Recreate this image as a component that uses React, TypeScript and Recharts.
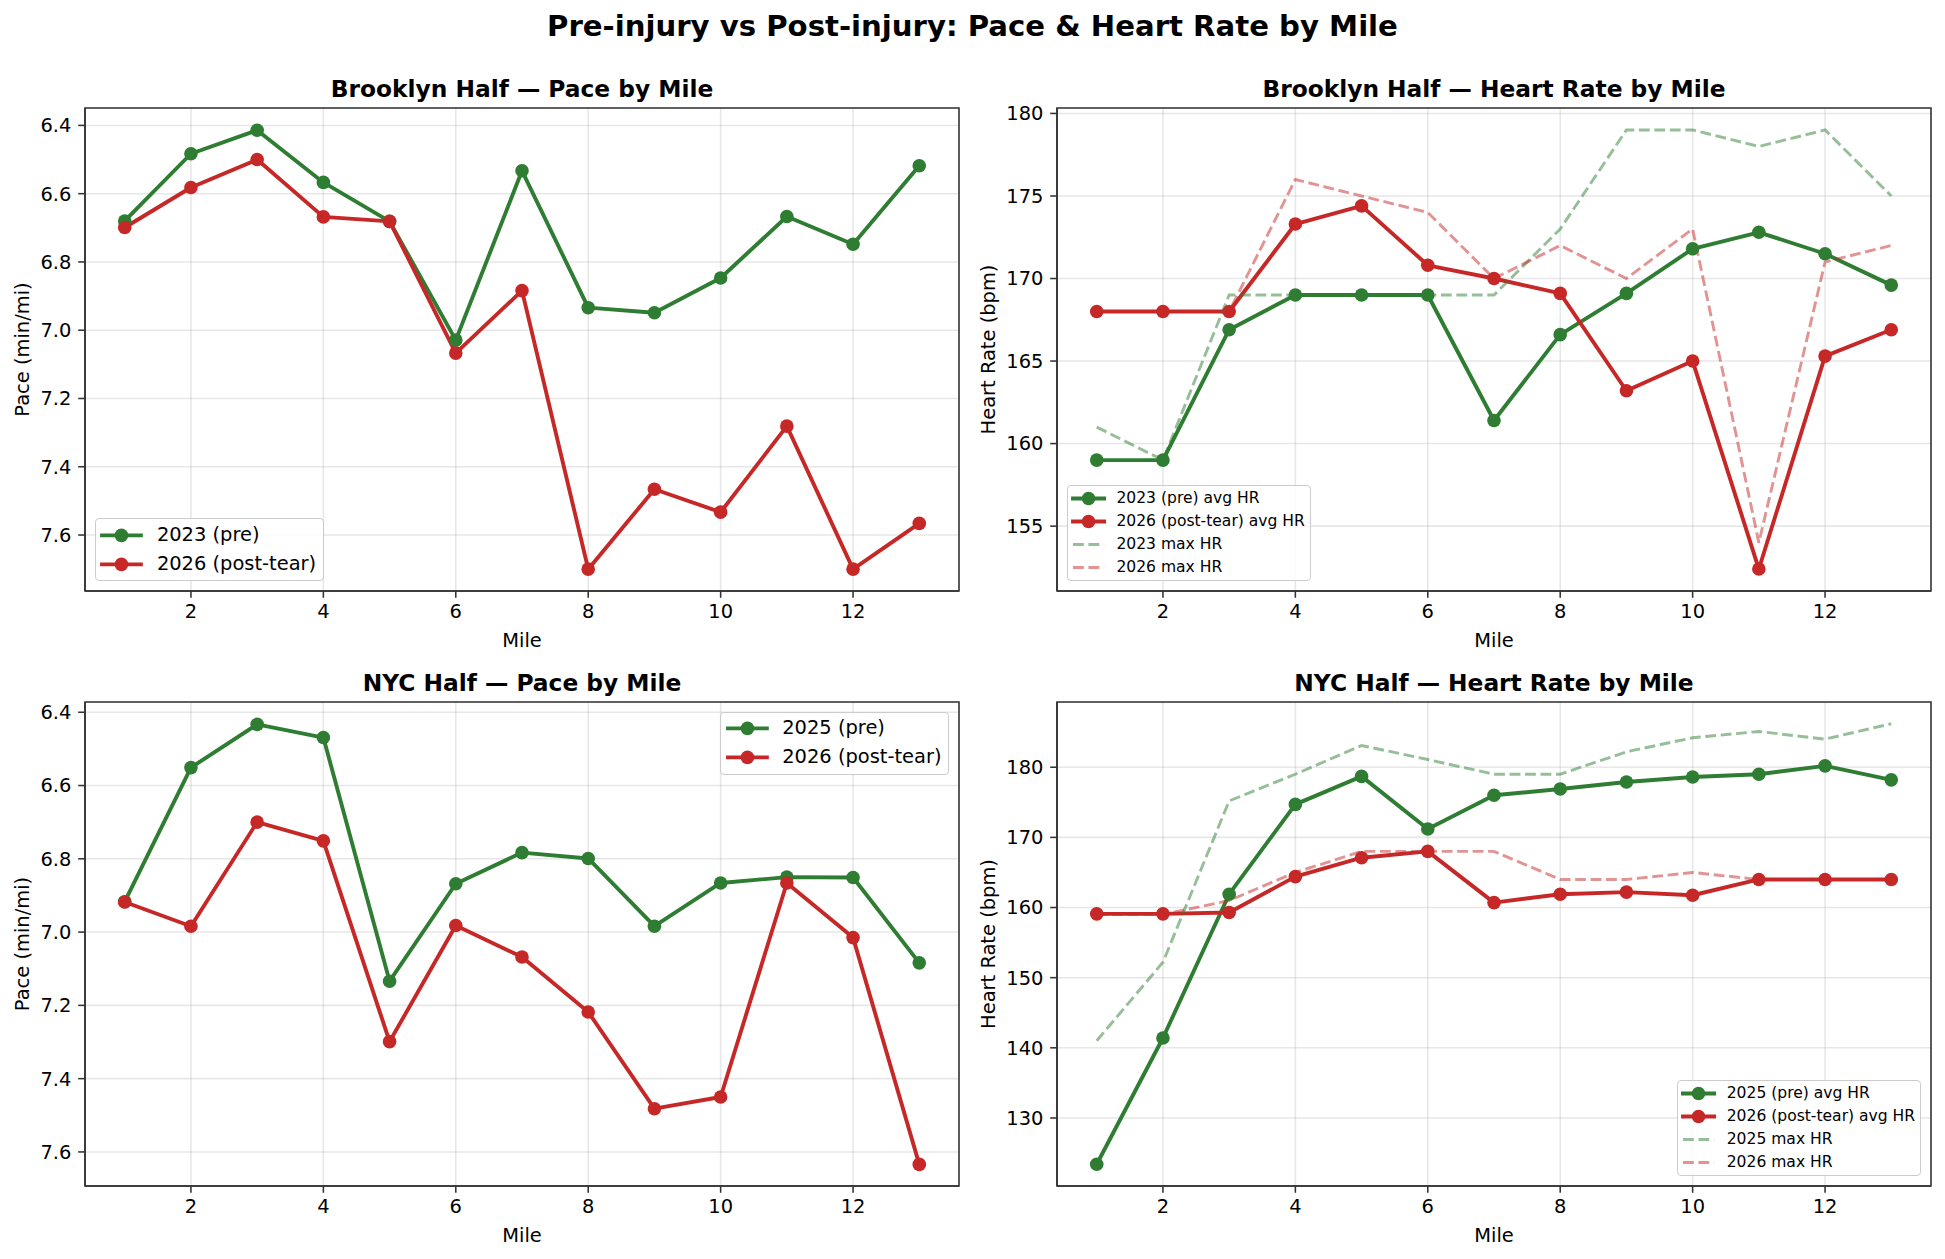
import React from 'react'
import { LineChart, Line, XAxis, YAxis, CartesianGrid, Legend, ReferenceArea } from 'recharts'

// ---- data ----
const miles = [1, 2, 3, 4, 5, 6, 7, 8, 9, 10, 11, 12, 13]

const bkPace2023 = [6.68, 6.483, 6.414, 6.567, 6.681, 7.029, 6.533, 6.934, 6.949, 6.847, 6.667, 6.748, 6.518]
const bkPace2026 = [6.699, 6.582, 6.5, 6.668, 6.681, 7.067, 6.884, 7.7, 7.466, 7.533, 7.281, 7.7, 7.566]

const bkHrAvg2023 = [159, 159, 166.9, 169, 169, 169, 161.4, 166.6, 169.1, 171.8, 172.8, 171.5, 169.6]
const bkHrAvg2026 = [168, 168, 168, 173.3, 174.4, 170.8, 170, 169.1, 163.2, 165, 152.4, 165.3, 166.9]
const bkHrMax2023 = [161, 159, 169, 169, 169, 169, 169, 173, 179, 179, 178, 179, 175]
const bkHrMax2026 = [168, 168, 168, 176, 175, 174, 170, 172, 170, 173, 154, 171, 172]

const nycPace2025 = [6.917, 6.551, 6.433, 6.469, 7.134, 6.868, 6.783, 6.799, 6.984, 6.866, 6.85, 6.851, 7.084]
const nycPace2026 = [6.918, 6.984, 6.7, 6.751, 7.299, 6.982, 7.068, 7.218, 7.482, 7.45, 6.866, 7.015, 7.634]

const nycHrAvg2025 = [123.4, 141.4, 161.9, 174.7, 178.7, 171.2, 176, 176.9, 177.9, 178.6, 179, 180.2, 178.2]
const nycHrAvg2026 = [159.1, 159.1, 159.3, 164.4, 167.1, 168, 160.7, 161.9, 162.2, 161.75, 164, 164, 164]
const nycHrMax2025 = [141, 152.2, 175.2, 179, 183.1, 181.1, 179, 179, 182.2, 184.2, 185.1, 184, 186.2]
const nycHrMax2026 = [159, 159, 161, 165, 168, 168, 168, 164, 164, 165, 164, 164, 164]

const mileTicks = [2, 4, 6, 8, 10, 12]
const paceTicks = [6.4, 6.6, 6.8, 7.0, 7.2, 7.4, 7.6]
const bkHrTicks = [155, 160, 165, 170, 175, 180]
const nycHrTicks = [130, 140, 150, 160, 170, 180]

// ---- styling ----
const GREEN = '#2e7d32'
const RED = '#c62828'
const FONT = '"DejaVu Sans", sans-serif'
const PT = 1.944 // px per point
const TICK_FS = 10 * PT
const XDOMAIN: [number, number] = [0.4, 13.6]

const W = 969
const YAXIS_W = 85
const PLOT_W = 874
const XAXIS_H = 62

type Series = { key: string; name: string; color: string; dashed?: boolean }

function toRows(cols: Record<string, number[]>) {
  return miles.map((m, i) => {
    const row: Record<string, number> = { mile: m }
    Object.keys(cols).forEach((k) => (row[k] = cols[k][i]))
    return row
  })
}

function LegendBox({ items, fontSize }: { items: Series[]; fontSize: number }) {
  const em = fontSize
  const rowH = 0.97 * em
  const handleW = 2 * em
  return (
    <div
      style={{
        display: 'inline-block',
        fontFamily: FONT,
        fontSize,
        background: 'rgba(255,255,255,0.8)',
        border: '1px solid #cccccc',
        borderRadius: 4,
        padding: 0.4 * em - 1,
        color: '#000',
      }}
    >
      {items.map((it, i) => (
        <div
          key={it.key}
          style={{ display: 'flex', alignItems: 'center', height: rowH, marginTop: i ? 0.5 * em : 0 }}
        >
          <svg width={handleW} height={rowH} style={{ overflow: 'visible', flex: 'none' }}>
            {it.dashed ? (
              <line
                x1={0}
                x2={handleW}
                y1={rowH / 2}
                y2={rowH / 2}
                stroke={it.color}
                strokeOpacity={0.5}
                strokeWidth={1.5 * PT}
                strokeDasharray={`${3.7 * 1.5 * PT} ${1.6 * 1.5 * PT}`}
              />
            ) : (
              <>
                <line
                  x1={0}
                  x2={handleW}
                  y1={rowH / 2}
                  y2={rowH / 2}
                  stroke={it.color}
                  strokeWidth={2 * PT}
                  strokeLinecap="square"
                />
                <circle cx={handleW / 2} cy={rowH / 2} r={3.5 * PT} fill={it.color} />
              </>
            )}
          </svg>
          <span style={{ marginLeft: 0.8 * em, whiteSpace: 'nowrap', lineHeight: `${rowH}px` }}>{it.name}</span>
        </div>
      ))}
    </div>
  )
}

type PanelProps = {
  left: number
  top: number
  plotH: number
  title: string
  data: Record<string, number>[]
  series: Series[]
  yDomain: [number, number]
  yTicks: number[]
  reversed?: boolean
  yLabel: string
  yLabelOffset: number
  fmt: (v: number) => string
  legendFont: number
  legendPos: React.CSSProperties
}

function Panel(p: PanelProps) {
  const marginTop = 48
  const H = marginTop + p.plotH + XAXIS_H
  return (
    <>
      <div
        style={{
          position: 'absolute',
          left: p.left + YAXIS_W,
          width: PLOT_W,
          top: p.top + marginTop - 11.7 - 0.846 * 12 * PT,
          textAlign: 'center',
          fontFamily: FONT,
          fontWeight: 'bold',
          fontSize: 12 * PT,
          lineHeight: `${12 * PT}px`,
          whiteSpace: 'nowrap',
        }}
      >
        {p.title}
      </div>
      <div style={{ position: 'absolute', left: p.left, top: p.top }}>
        <LineChart
          width={W}
          height={H}
          data={p.data}
          margin={{ top: marginTop, right: W - YAXIS_W - PLOT_W, left: 0, bottom: 0 }}
          style={{ fontFamily: FONT }}
        >
          <CartesianGrid stroke="#b0b0b0" strokeOpacity={0.3} strokeWidth={0.8 * PT} />
          <XAxis
            dataKey="mile"
            type="number"
            domain={XDOMAIN}
            ticks={mileTicks}
            interval={0}
            allowDataOverflow
            height={XAXIS_H}
            tickSize={3.5 * PT}
            tickMargin={3.5 * PT}
            tick={{ fontSize: TICK_FS, fill: '#000', fontFamily: FONT }}
            tickLine={{ stroke: '#333', strokeWidth: 0.8 * PT }}
            axisLine={{ stroke: '#333', strokeWidth: 0.8 * PT }}
            label={{ value: 'Mile', position: 'insideBottom', offset: 6, fontSize: TICK_FS, fill: '#000', fontFamily: FONT }}
          />
          <YAxis
            type="number"
            domain={p.yDomain}
            ticks={p.yTicks}
            interval={0}
            allowDataOverflow
            reversed={p.reversed}
            width={YAXIS_W}
            tickFormatter={p.fmt}
            tickSize={3.5 * PT}
            tickMargin={3.5 * PT}
            tick={{ fontSize: TICK_FS, fill: '#000', fontFamily: FONT }}
            tickLine={{ stroke: '#333', strokeWidth: 0.8 * PT }}
            axisLine={{ stroke: '#333', strokeWidth: 0.8 * PT }}
            label={{
              value: p.yLabel,
              angle: -90,
              position: 'insideLeft',
              offset: p.yLabelOffset,
              fontSize: TICK_FS,
              fill: '#000',
              fontFamily: FONT,
              style: { textAnchor: 'middle' },
            }}
          />
          {p.series.map((s) =>
            s.dashed ? (
              <Line
                key={s.key}
                dataKey={s.key}
                name={s.name}
                type="linear"
                stroke={s.color}
                strokeOpacity={0.5}
                strokeWidth={1.5 * PT}
                strokeDasharray={`${3.7 * 1.5 * PT} ${1.6 * 1.5 * PT}`}
                dot={false}
                activeDot={false}
                isAnimationActive={false}
              />
            ) : (
              <Line
                key={s.key}
                dataKey={s.key}
                name={s.name}
                type="linear"
                stroke={s.color}
                strokeWidth={2 * PT}
                strokeLinejoin="round"
                dot={{ r: 3.5 * PT, fill: s.color, stroke: s.color, strokeWidth: 0 }}
                activeDot={false}
                isAnimationActive={false}
              />
            )
          )}
          <ReferenceArea
            x1={XDOMAIN[0]}
            x2={XDOMAIN[1]}
            y1={p.yDomain[0]}
            y2={p.yDomain[1]}
            fill="none"
            fillOpacity={0}
            stroke="#333"
            strokeWidth={0.8 * PT}
            ifOverflow="visible"
          />
          <Legend
            layout="horizontal"
            verticalAlign="middle"
            align="center"
            wrapperStyle={{ width: 'auto', height: 'auto', ...p.legendPos }}
            content={() => <LegendBox items={p.series} fontSize={p.legendFont} />}
          />
        </LineChart>
      </div>
    </>
  )
}

const paceFmt = (v: number) => v.toFixed(1)
const hrFmt = (v: number) => String(v)

export default function App() {
  const bkPaceRows = toRows({ pre: bkPace2023, post: bkPace2026 })
  const bkHrRows = toRows({ preAvg: bkHrAvg2023, postAvg: bkHrAvg2026, preMax: bkHrMax2023, postMax: bkHrMax2026 })
  const nycPaceRows = toRows({ pre: nycPace2025, post: nycPace2026 })
  const nycHrRows = toRows({ preAvg: nycHrAvg2025, postAvg: nycHrAvg2026, preMax: nycHrMax2025, postMax: nycHrMax2026 })

  return (
    <div
      style={{
        position: 'absolute',
        left: 0,
        top: 0,
        width: 1945,
        height: 1259,
        background: '#fff',
        fontFamily: FONT,
        overflow: 'hidden',
      }}
    >
      <div
        style={{
          position: 'absolute',
          left: 0,
          width: 1945,
          top: 36.6 - 0.846 * 15 * PT,
          textAlign: 'center',
          fontWeight: 'bold',
          fontSize: 15 * PT,
          lineHeight: `${15 * PT}px`,
          whiteSpace: 'nowrap',
        }}
      >
        Pre-injury vs Post-injury: Pace &amp; Heart Rate by Mile
      </div>

      <Panel
        left={0}
        top={60}
        plotH={483}
        title="Brooklyn Half — Pace by Mile"
        data={bkPaceRows}
        series={[
          { key: 'pre', name: '2023 (pre)', color: GREEN },
          { key: 'post', name: '2026 (post-tear)', color: RED },
        ]}
        yDomain={[6.349, 7.764]}
        yTicks={paceTicks}
        reversed
        yLabel="Pace (min/mi)"
        yLabelOffset={22}
        fmt={paceFmt}
        legendFont={10 * PT}
        legendPos={{ left: 94.7, bottom: 71.7 }}
      />

      <Panel
        left={972}
        top={60}
        plotH={483}
        title="Brooklyn Half — Heart Rate by Mile"
        data={bkHrRows}
        series={[
          { key: 'preAvg', name: '2023 (pre) avg HR', color: GREEN },
          { key: 'postAvg', name: '2026 (post-tear) avg HR', color: RED },
          { key: 'preMax', name: '2023 max HR', color: GREEN, dashed: true },
          { key: 'postMax', name: '2026 max HR', color: RED, dashed: true },
        ]}
        yDomain={[151.07, 180.33]}
        yTicks={bkHrTicks}
        yLabel="Heart Rate (bpm)"
        yLabelOffset={16.6}
        fmt={hrFmt}
        legendFont={8 * PT}
        legendPos={{ left: 94.7, bottom: 71.7 }}
      />

      <Panel
        left={0}
        top={654}
        plotH={484}
        title="NYC Half — Pace by Mile"
        data={nycPaceRows}
        series={[
          { key: 'pre', name: '2025 (pre)', color: GREEN },
          { key: 'post', name: '2026 (post-tear)', color: RED },
        ]}
        yDomain={[6.372, 7.693]}
        yTicks={paceTicks}
        reversed
        yLabel="Pace (min/mi)"
        yLabelOffset={22}
        fmt={paceFmt}
        legendFont={10 * PT}
        legendPos={{ right: 19.7, top: 57.7 }}
      />

      <Panel
        left={972}
        top={654}
        plotH={484}
        title="NYC Half — Heart Rate by Mile"
        data={nycHrRows}
        series={[
          { key: 'preAvg', name: '2025 (pre) avg HR', color: GREEN },
          { key: 'postAvg', name: '2026 (post-tear) avg HR', color: RED },
          { key: 'preMax', name: '2025 max HR', color: GREEN, dashed: true },
          { key: 'postMax', name: '2026 max HR', color: RED, dashed: true },
        ]}
        yDomain={[120.3, 189.3]}
        yTicks={nycHrTicks}
        yLabel="Heart Rate (bpm)"
        yLabelOffset={16.6}
        fmt={hrFmt}
        legendFont={8 * PT}
        legendPos={{ right: 19.7, bottom: 71.7 }}
      />
    </div>
  )
}
